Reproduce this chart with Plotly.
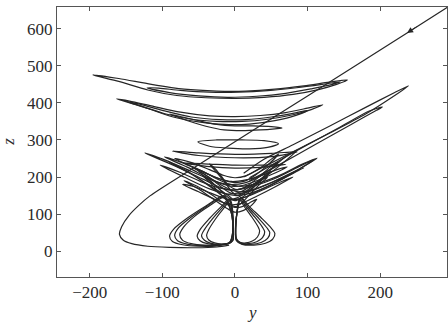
import plotly.graph_objects as go

# ---- data (y, z) ----
transient_y = [310, 237, 100, -50, -117, -132, -146, -156, -159, -154, -142, -120, -90, -55, -25, -8]
transient_z = [680, 589, 419, 233, 149, 124, 96, 66, 45, 30, 20, 13, 10, 9, 11, 16]

# lower butterfly lobes
lobes_y = [
    -15, -40, -65, -84, -90, -86, -72, -50, -25, -8, -3, -4, -9, -15, None,
    -15, -38, -60, -78, -83, -79, -66, -46, -23, -7, -3, -4, -9, -15, None,
    -14, -36, -56, -71, -76, -72, -60, -42, -21, -6, -3, -4, -9, -14, None,
    -8, -20, -35, -48, -52, -48, -38, -24, -10, -3, -2, -4, -8, None,
    -7, -18, -31, -42, -46, -42, -33, -21, -9, -3, -2, -4, -7, None,
    -6, -16, -27, -36, -39, -36, -28, -18, -8, -3, -2, -3, -6, None,
    8, 20, 36, 50, 55, 52, 42, 26, 10, 2, 1, 3, 8, None,
    8, 18, 32, 44, 48, 45, 36, 22, 9, 2, 1, 3, 8, None,
    7, 16, 28, 38, 41, 38, 30, 18, 8, 2, 1, 3, 7, None,
    6, 14, 24, 32, 34, 31, 24, 15, 7, 2, 1, 3, 6,
]
lobes_z = [
    150, 122, 90, 60, 40, 26, 17, 13, 14, 22, 50, 95, 130, 150, None,
    148, 122, 92, 62, 42, 28, 19, 15, 16, 24, 52, 95, 128, 148, None,
    146, 121, 93, 64, 44, 29, 20, 16, 17, 25, 54, 96, 127, 146, None,
    140, 118, 88, 58, 40, 28, 20, 17, 19, 28, 60, 105, 140, None,
    138, 116, 87, 58, 41, 29, 21, 18, 20, 29, 62, 106, 138, None,
    136, 114, 86, 58, 42, 30, 22, 19, 21, 30, 64, 107, 136, None,
    145, 120, 90, 62, 48, 32, 21, 16, 18, 28, 60, 105, 145, None,
    143, 119, 90, 63, 50, 34, 23, 18, 20, 30, 62, 106, 143, None,
    141, 118, 90, 64, 52, 36, 25, 20, 22, 32, 64, 107, 141, None,
    139, 117, 90, 65, 54, 38, 27, 22, 24, 34, 66, 108, 139,
]

# middle (dense) V-shaped loops
middle_y = [
    -124, -85, -45, -20, -8, 8, 30, 60, 86, 70, 40, 15, -8, -30, -60, -95, -124, None,
    -103, -70, -35, -12, 0, 15, 40, 75, 108, 88, 55, 25, 0, -20, -45, -75, -103, None,
    -72, -50, -28, -12, -5, 8, 30, 55, 80, 62, 38, 15, -5, -20, -40, -58, -72, None,
    -97, -65, -35, -15, -5, 10, 30, 52, 72, 55, 35, 15, -5, -22, -45, -72, -97, None,
    -60, -40, -20, -5, 5, 20, 50, 85, 113, 92, 60, 30, 5, -10, -28, -45, -60, None,
    -83, -55, -28, -10, 0, 12, 28, 45, 60, 48, 33, 15, 0, -15, -35, -62, -83, None,
    -45, -32, -18, -7, 0, 8, 20, 33, 45, 35, 24, 10, 0, -10, -22, -34, -45, None,
    -35, -25, -14, -4, 3, 14, 30, 46, 60, 48, 33, 16, 3, -8, -18, -27, -35, None,
    -70, -48, -28, -10, 0, 12, 22, 30, 20, 10, 0, -15, -32, -52, -70, None,
    -50, -35, -18, -6, -3, 10, 35, 65, 95, 75, 45, 18, -3, -14, -28, -40, -50, None,
    -90, -62, -35, -18, -10, 2, 20, 36, 50, 40, 25, 8, -10, -25, -45, -68, -90, None,
    -86, -50, 0, 50, 86, 50, 0, -50, -86, None,
    -70, -35, 0, 35, 70, 35, 0, -35, -70,
]
middle_z = [
    265, 232, 195, 172, 165, 168, 185, 228, 273, 255, 208, 185, 180, 190, 215, 245, 265, None,
    232, 200, 168, 154, 150, 153, 170, 205, 246, 228, 196, 175, 165, 170, 186, 212, 232, None,
    180, 160, 140, 128, 125, 128, 148, 173, 200, 186, 165, 146, 138, 146, 162, 175, 180, None,
    254, 226, 196, 180, 175, 177, 190, 208, 227, 218, 203, 192, 188, 196, 214, 238, 254, None,
    228, 205, 180, 165, 160, 163, 185, 218, 251, 234, 203, 182, 175, 182, 198, 216, 228, None,
    250, 225, 200, 188, 185, 188, 205, 232, 262, 245, 222, 203, 198, 204, 220, 240, 250, None,
    205, 180, 150, 128, 120, 128, 152, 178, 200, 190, 168, 145, 136, 146, 168, 190, 205, None,
    235, 212, 186, 160, 150, 160, 185, 213, 240, 226, 200, 175, 166, 176, 200, 222, 235, None,
    190, 165, 138, 114, 105, 110, 122, 140, 130, 120, 118, 130, 152, 175, 190, None,
    215, 190, 162, 145, 140, 143, 165, 195, 225, 208, 180, 160, 155, 166, 188, 205, 215, None,
    240, 210, 175, 150, 140, 143, 165, 190, 215, 200, 180, 160, 154, 165, 190, 218, 240, None,
    270, 258, 252, 255, 268, 264, 261, 265, 270, None,
    238, 228, 224, 226, 234, 232, 232, 235, 238,
]

# upper banana-shaped loops
upper_y = [
    -196, -160, -120, -80, -40, 0, 40, 80, 115, 140, 155, 130, 95, 55, 15, -25, -70, -115, -160, -196, None,
    -121, -90, -50, -10, 30, 70, 105, 130, 145, 120, 85, 45, 5, -35, -75, -105, -121, None,
    -163, -130, -95, -60, -25, 10, 45, 80, 105, 121, 100, 70, 35, 0, -35, -75, -115, -145, -163, None,
    -150, -120, -85, -50, -15, 20, 55, 85, 100, 80, 50, 15, -20, -60, -100, -130, -150, None,
    -90, -65, -40, -15, 10, 35, 55, 65, 50, 25, 0, -25, -50, -72, -90, None,
    -51, -35, -10, 20, 45, 60, 40, 10, -25, -51,
]
upper_z = [
    476, 458, 435, 420, 414, 412, 415, 423, 436, 450, 462, 456, 446, 437, 432, 432, 437, 450, 466, 476, None,
    441, 428, 419, 415, 418, 426, 438, 448, 457, 450, 441, 433, 429, 429, 434, 440, 441, None,
    411, 392, 370, 356, 350, 350, 356, 368, 382, 395, 386, 374, 366, 363, 365, 375, 392, 405, 411, None,
    404, 385, 362, 349, 342, 343, 352, 367, 380, 372, 362, 355, 355, 362, 380, 396, 404, None,
    370, 352, 337, 327, 325, 327, 330, 332, 336, 338, 338, 342, 352, 362, 370, None,
    295, 283, 278, 276, 280, 290, 298, 300, 300, 295,
]

# long diagonal loops on the right
diagonal_y = [
    12, 40, 80, 130, 180, 220, 239, 220, 180, 130, 80, 40, 12, None,
    20, 60, 110, 160, 195, 203, 185, 145, 95, 50, 20,
]
diagonal_z = [
    200, 228, 268, 318, 370, 420, 446, 428, 388, 337, 287, 248, 210, None,
    190, 232, 287, 342, 380, 389, 378, 335, 282, 232, 198,
]

x_ticks = [-200, -100, 0, 100, 200]
y_ticks = [0, 100, 200, 300, 400, 500, 600]

LINE = dict(color="#262626", width=1.2, shape="spline", smoothing=0.8)

fig = go.Figure()
for ys, zs in [(transient_y, transient_z), (lobes_y, lobes_z), (middle_y, middle_z),
               (upper_y, upper_z), (diagonal_y, diagonal_z)]:
    fig.add_trace(go.Scatter(x=ys, y=zs, mode="lines", line=LINE,
                             connectgaps=False, showlegend=False, hoverinfo="skip"))

fig.add_annotation(x=237, y=589, ax=252, ay=608, xref="x", yref="y",
                   axref="x", ayref="y", text="", showarrow=True,
                   arrowhead=2, arrowsize=1.2, arrowwidth=1, arrowcolor="#262626")

FONT = dict(family="Liberation Serif", size=17, color="#2a2a2a")
fig.add_annotation(x=23, y=-0.133, xref="x", yref="paper", text="<i>y</i>",
                   showarrow=False, font=FONT, xanchor="center", yanchor="middle")
fig.add_annotation(x=-0.123, y=295, xref="paper", yref="y", text="<i>z</i>",
                   showarrow=False, font=FONT, textangle=-90,
                   xanchor="center", yanchor="middle")

axis_common = dict(showline=True, linecolor="#555555", linewidth=1, mirror="ticks",
                   ticks="inside", ticklen=4, tickcolor="#555555", showgrid=False,
                   zeroline=False, tickfont=FONT, automargin=False)

fig.update_layout(
    width=448, height=322,
    margin=dict(l=57, r=1, t=7, b=45, autoexpand=False),
    paper_bgcolor="white", plot_bgcolor="white",
    xaxis=dict(range=[-245, 292], tickvals=x_ticks, **axis_common),
    yaxis=dict(range=[-70, 659], tickvals=y_ticks, **axis_common),
)

fig.write_html("out.html", config={"displayModeBar": False},
               post_script="document.body.style.margin='0px';")
